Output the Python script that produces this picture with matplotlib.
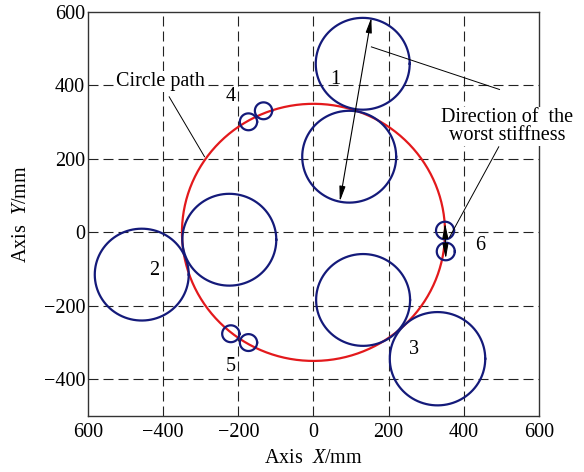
import numpy as np
import matplotlib
matplotlib.use("Agg")
import matplotlib.pyplot as plt

plt.rcParams["font.family"] = ["Liberation Serif", "DejaVu Serif"]
plt.rcParams["mathtext.fontset"] = "custom"
plt.rcParams["mathtext.rm"] = "Liberation Serif"
plt.rcParams["mathtext.it"] = "Liberation Serif:italic"

# Circular tool path
path_radius = 350

# Large workpiece circles (centre x, centre y, radius)
big_x = [131, 95, -224, -457, 132, 330]
big_y = [459, 206, -20, -115, -184, -344]
big_r = [125, 125, 125, 125, 125, 127]

# Small circle pairs (groups 4, 5, 6)
small_x = [-173, -133, -220, -173, 350, 352]
small_y = [301, 331, -276, -300, 5, -52]
small_r = [23, 23, 23, 23, 24, 24]

# Position numbers
num_text = ["1", "2", "3", "4", "5", "6"]
num_x = [59, -423, 267, -220, -221, 443]
num_y = [417, -104, -320, 369, -365, -36]

# Axis ticks
x_ticks = [-600, -400, -200, 0, 200, 400, 600]
x_tick_labels = ["600", "\u2212400", "\u2212200", "0", "200", "400", "600"]
y_ticks = [-400, -200, 0, 200, 400, 600]
y_tick_labels = ["\u2212400", "\u2212200", "0", "200", "400", "600"]
grid_vals = [-400, -200, 0, 200, 400]

FS = 14.5

fig = plt.figure(figsize=(5.84, 4.72), dpi=100)
ax = fig.add_axes([0.1507, 0.1186, 0.7722, 0.856])
ax.set_xlim(-600, 600)
ax.set_ylim(-500, 600)

grid_style = dict(color="#222222", lw=0.8, linestyle=(0, (9, 4.5)), zorder=1)
for g in grid_vals:
    ax.axvline(g, **grid_style)
    ax.axhline(g, **grid_style)

t = np.linspace(0, 2 * np.pi, 400)
ax.plot(path_radius * np.cos(t), path_radius * np.sin(t), color="#e3191c", lw=1.6, zorder=3)

navy = "#141a7a"
for cx, cy, r in zip(big_x, big_y, big_r):
    ax.plot(cx + r * np.cos(t), cy + r * np.sin(t), color=navy, lw=1.6, zorder=4)
for cx, cy, r in zip(small_x, small_y, small_r):
    ax.plot(cx + r * np.cos(t), cy + r * np.sin(t), color=navy, lw=1.6, zorder=4)

for s, x, y in zip(num_text, num_x, num_y):
    ax.text(x, y, s, fontsize=FS, ha="center", va="center", zorder=6)

# Worst-stiffness direction arrows
arrow = dict(arrowstyle="<|-|>,head_length=0.9,head_width=0.18", color="black",
             lw=0.8, shrinkA=0, shrinkB=0)
ax.annotate("", xy=(154, 585), xytext=(70, 84), arrowprops=arrow, zorder=7)
ax.annotate("", xy=(350, 25), xytext=(352, -72), arrowprops=arrow, zorder=7)

# Leader lines
ax.plot([154, 495], [505, 389], color="black", lw=0.7, zorder=5)
ax.plot([493, 362], [233, -13], color="black", lw=0.7, zorder=5)
ax.plot([-384, -290], [369, 206], color="black", lw=0.7, zorder=5)

ax.text(-406, 411, "Circle path", fontsize=FS, ha="center", va="center",
        bbox=dict(facecolor="white", edgecolor="none", pad=0.5), zorder=6)
ax.text(516, 288, "Direction of  the\nworst stiffness", fontsize=FS, ha="center",
        va="center", linespacing=0.95,
        bbox=dict(facecolor="white", edgecolor="none", pad=0.5), zorder=6)

ax.set_xticks(x_ticks)
ax.set_xticklabels(x_tick_labels)
ax.set_yticks(y_ticks)
ax.set_yticklabels(y_tick_labels)
ax.tick_params(length=0, labelsize=FS)
ax.tick_params(axis="x", pad=5)
ax.tick_params(axis="y", pad=2)

for sp in ax.spines.values():
    sp.set_color("#333333")
    sp.set_linewidth(1.0)

ax.set_xlabel(r"Axis  $X$/mm", fontsize=FS, labelpad=5)
ax.set_ylabel(r"Axis  $Y$/mm", fontsize=FS, labelpad=9)

fig.savefig("out.png", dpi=100, facecolor="white")
